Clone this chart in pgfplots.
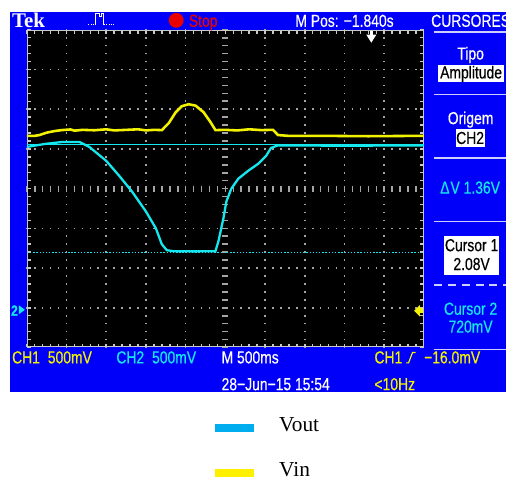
\documentclass[border=0pt]{standalone}
\usepackage{pgfplots}
\pgfplotsset{compat=1.18}
\usepackage{fontspec}
\setmainfont{Liberation Serif}
\newfontfamily\tekfont[FakeStretch=0.8,FakeBold=0.4]{Liberation Sans}
\newfontfamily\tekserif{Liberation Serif}
\newcommand{\tf}{\tekfont\fontsize{17.5}{20}\selectfont}
\definecolor{tekblue}{RGB}{0,0,250}
\definecolor{tcyan}{RGB}{20,232,238}
\definecolor{tyellow}{RGB}{242,242,0}
\definecolor{sepc}{RGB}{205,205,255}
\definecolor{gridc}{RGB}{165,165,165}
\definecolor{bordc}{RGB}{200,200,200}
\definecolor{legblue}{RGB}{0,174,239}
\definecolor{legyellow}{RGB}{255,240,0}
\definecolor{stopred}{RGB}{235,0,0}
\begin{document}
\begin{tikzpicture}
% ---------- background, screen and graticule (pixel coordinates, y downwards)
\begin{scope}[x=1pt,y=-1pt,shift={(0pt,480pt)}]
\fill[white] (0,0) rectangle (510,480);
\fill[tekblue] (10,12) rectangle (510,395);
\fill[black] (27,30) rectangle (427,350);
% dotted grid
\foreach \gx in {67,107,147,187,267,307,347,387}
  \draw[gridc,line width=1.6pt,dash pattern=on 1.6pt off 6.4pt] (\gx,29.2) -- (\gx,350);
\foreach \gy in {70,110,150,230,270,310}
  \draw[gridc,line width=1.6pt,dash pattern=on 1.6pt off 6.4pt] (26.2,\gy) -- (427,\gy);
% centre lines
\draw[gridc,line width=6pt,dash pattern=on 1.6pt off 6.4pt] (26.2,190) -- (427,190);
\draw[gridc,line width=6pt,dash pattern=on 1.6pt off 6.4pt] (227,29.2) -- (227,350);
% border with ticks
\draw[bordc,line width=1.4pt] (27,30.7) -- (427,30.7);
\draw[bordc,line width=1.4pt] (27,349.3) -- (427,349.3);
\draw[bordc,line width=1.4pt] (27.7,30) -- (27.7,350);
\draw[bordc,line width=1.4pt] (426.3,30) -- (426.3,350);
\draw[bordc,line width=4pt,dash pattern=on 1.5pt off 6.5pt] (26.25,32) -- (427,32);
\draw[bordc,line width=4pt,dash pattern=on 1.5pt off 6.5pt] (26.25,348) -- (427,348);
\draw[bordc,line width=4pt,dash pattern=on 1.5pt off 6.5pt] (29,29.25) -- (29,350);
\draw[bordc,line width=4pt,dash pattern=on 1.5pt off 6.5pt] (425,29.25) -- (425,350);
\end{scope}
% ---------- the traces
\begin{axis}[at={(27pt,130pt)},anchor=south west,scale only axis,
  width=400pt,height=320pt,
  xmin=-2.5,xmax=2.5,ymin=-0.475,ymax=3.525,
  hide axis,clip=true,
  legend image code/.code={\draw[#1,line width=8pt] (0pt,-2.5pt) -- (40pt,-2.5pt);},
  legend cell align=left,
  legend style={at={(0.4625,-0.213)},anchor=north west,draw=none,fill=none,
    inner sep=0pt,row sep=26pt,font=\fontsize{21.5}{24}\selectfont,
    /tikz/every odd column/.append style={column sep=19pt}},
]
% cursor 1 (2.08 V) and cursor 2 (720 mV)
\addplot[tcyan,line width=1.1pt,forget plot] coordinates {(-2.5,2.08) (2.5,2.08)};
\addplot[tcyan,line width=1.4pt,dash pattern=on 1.4pt off 1.8pt,forget plot] coordinates {(-2.5,0.72) (2.5,0.72)};
% Vin (CH1)
\addplot[tyellow,line width=2.6pt,forget plot] coordinates {
(-2.5,2.19) (-2.40,2.19) (-2.34,2.20) (-2.25,2.23) (-2.15,2.25) (-2.06,2.262)
(-1.95,2.27) (-1.90,2.255) (-1.80,2.265) (-1.65,2.26) (-1.50,2.272) (-1.40,2.258)
(-1.25,2.265) (-1.10,2.272) (-1.00,2.258) (-0.90,2.265) (-0.80,2.262)
(-0.7125,2.35) (-0.625,2.4875) (-0.55,2.5625) (-0.4625,2.5875) (-0.375,2.57)
(-0.275,2.4875) (-0.1875,2.3625) (-0.125,2.262)
(0.0,2.265) (0.15,2.258) (0.30,2.272) (0.45,2.262) (0.60,2.265)
(0.6625,2.20) (0.7875,2.19) (1.2,2.19) (1.8,2.185) (2.5,2.19)};
% Vout (CH2)
\addplot[tcyan,line width=2.3pt,forget plot] coordinates {
(-2.5,2.05) (-2.275,2.0875) (-2.05,2.1125) (-1.8375,2.1125) (-1.7125,2.05)
(-1.5,1.875) (-1.3375,1.6875) (-1.175,1.4875) (-1.0,1.2375) (-0.875,1.025)
(-0.8,0.825) (-0.7375,0.75) (-0.65,0.7375) (-0.40,0.735) (-0.125,0.7375)
(-0.0875,0.8625) (-0.025,1.15) (0.0125,1.3625) (0.075,1.525) (0.1625,1.65)
(0.2875,1.75) (0.4125,1.8375) (0.5125,1.9375) (0.575,2.0375) (0.6625,2.07)
(1.5,2.065) (2.5,2.07)};
\addlegendimage{legblue}
\addlegendentry{Vout}
\addlegendimage{legyellow}
\addlegendentry{Vin}
\end{axis}
% ---------- texts and markers
\begin{scope}[x=1pt,y=-1pt,shift={(0pt,480pt)}]
% top bar
\node[anchor=base west,inner sep=0pt,white,font=\tekserif\bfseries\fontsize{21}{24}\selectfont] at (12,28) {Tek};
\draw[white,line width=1.1pt,dash pattern=on 1pt off 1.2pt] (89,25) -- (96,25);
\draw[white,line width=1.1pt] (96,25) -- (96,14) -- (100,14) -- (100,17) -- (102,17) -- (102,14) -- (104.5,14) -- (104.5,25);
\draw[white,line width=1.1pt,dash pattern=on 1pt off 1.2pt] (105,25) -- (114,25);
\fill[stopred] (177.5,20.5) circle (7.5);
\node[anchor=base west,inner sep=0pt,stopred,font=\tf] at (190,27) {Stop};
\node[anchor=base,inner sep=0pt,white,font=\tf] at (347,27) {M Pos: −1.840s};
\node[anchor=base,inner sep=0pt,white,font=\tf] at (474,27) {CURSORES};
% trigger position marker
\fill[white] (372.5,31) rectangle (375.5,36);
\fill[white] (369,35) -- (379,35) -- (374,43) -- cycle;
% trigger level marker (right) and ground marker (left)
\fill[tyellow] (417,313) -- (423,307) -- (423,319) -- cycle;
\fill[tyellow] (422,310.5) rectangle (426,315.5);
\node[anchor=base west,inner sep=0pt,tcyan,font=\tekfont\bfseries\fontsize{15}{17}\selectfont] at (11,318) {2};
\fill[tcyan] (19,307.5) -- (25,312) -- (19,316.5) -- cycle;
% right panel
\draw[sepc,line width=1.6pt] (437,32) -- (510,32);
\node[anchor=base,inner sep=0pt,white,font=\tf] at (474,60) {Tipo};
\fill[white] (441,65) rectangle (508,83);
\node[anchor=base,inner sep=0pt,black,font=\tf] at (474.5,79) {Amplitude};
\draw[sepc,line width=1.6pt] (437,95) -- (510,95);
\node[anchor=base,inner sep=0pt,white,font=\tf] at (474,125) {Origem};
\fill[white] (459,130) rectangle (488,148);
\node[anchor=base,inner sep=0pt,black,font=\tf] at (473.5,145) {CH2};
\draw[sepc,line width=1.6pt] (437,159) -- (510,159);
\node[anchor=base,inner sep=0pt,tcyan,font=\tf] at (473.5,195) {Δ\kern1pt V 1.36V};
\draw[sepc,line width=1.6pt] (437,223) -- (510,223);
\fill[white] (447,238) rectangle (503,277);
\node[anchor=base,inner sep=0pt,black,font=\tf] at (475,253) {Cursor 1};
\node[anchor=base,inner sep=0pt,black,font=\tf] at (475,272) {2.08V};
\draw[sepc,line width=1.6pt,dash pattern=on 8pt off 6pt] (437,287) -- (510,287);
\node[anchor=base,inner sep=0pt,tcyan,font=\tf] at (474,317) {Cursor 2};
\node[anchor=base,inner sep=0pt,tcyan,font=\tf] at (474,335) {720mV};
\draw[sepc,line width=1.6pt] (437,352) -- (510,352);
% bottom bar
\node[anchor=base west,inner sep=0pt,tyellow,font=\tf] at (12,366) {CH1};
\node[anchor=base west,inner sep=0pt,tyellow,font=\tf] at (48,366) {500mV};
\node[anchor=base west,inner sep=0pt,tcyan,font=\tf] at (117,366) {CH2};
\node[anchor=base west,inner sep=0pt,tcyan,font=\tf] at (153,366) {500mV};
\node[anchor=base west,inner sep=0pt,white,font=\tf] at (223,366) {M 500ms};
\node[anchor=base west,inner sep=0pt,tyellow,font=\tf] at (377,366) {CH1};
\draw[tyellow,line width=1.2pt] (409,365.5) -- (411.5,365.5) -- (415.5,355) -- (418.5,355);
\node[anchor=base west,inner sep=0pt,tyellow,font=\tf] at (427,366) {−16.0mV};
\node[anchor=base west,inner sep=0pt,white,font=\tf] at (223,393) {28−Jun−15 15:54};
\node[anchor=base west,inner sep=0pt,tyellow,font=\tf] at (377,393) {<10Hz};
\end{scope}
\end{tikzpicture}
\end{document}
